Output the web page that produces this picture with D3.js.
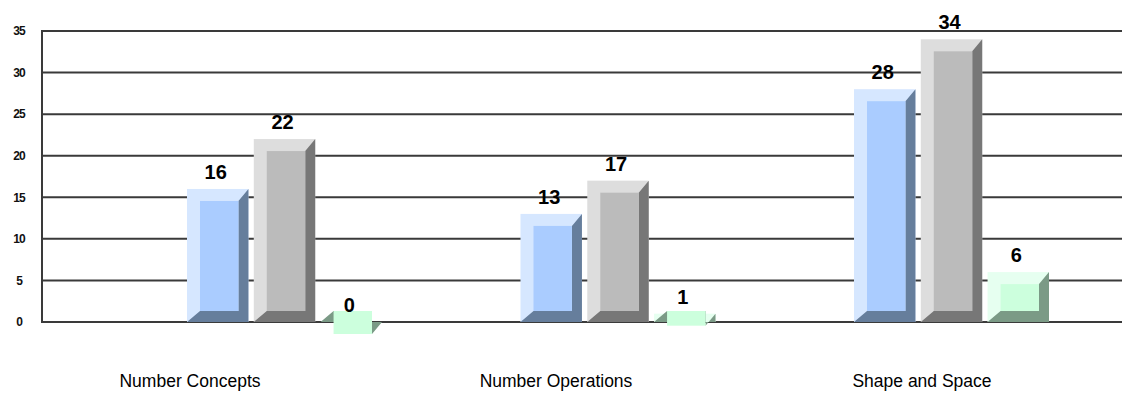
<!DOCTYPE html>
<html>
<head>
<meta charset="utf-8">
<script src="https://cdn.jsdelivr.net/npm/d3@7"></script>
<style>
  html, body { margin: 0; padding: 0; background: #fff; }
  svg { display: block; }
</style>
</head>
<body>
<svg id="chart" width="1122" height="405"></svg>
<script>
const categories = ["Number Concepts", "Number Operations", "Shape and Space"];
const seriesKeys = ["blue", "gray", "green"];
const blueValues = [16, 13, 28];
const grayValues = [22, 17, 34];
const greenValues = [0, 1, 6];
const yTicks = [0, 5, 10, 15, 20, 25, 30, 35];

const palette = {
  blue:  { light: "#d6e7ff", mid: "#aaccff", dark: "#667e9c" },
  gray:  { light: "#dddddd", mid: "#bbbbbb", dark: "#777777" },
  green: { light: "#e6fff0", mid: "#ccffdd", dark: "#7b9a86" }
};

const valuesByKey = { blue: blueValues, gray: grayValues, green: greenValues };
const data = categories.map((c, i) => ({
  category: c,
  values: seriesKeys.map(k => ({ key: k, value: valuesByKey[k][i] }))
}));

const svg = d3.select("#chart");
const W = 1122;
const axisX = 42;

const y = d3.scaleLinear().domain([0, 35]).range([322, 31]);
const x0 = d3.scaleBand().domain(categories).range([187, 1187.5]).paddingInner(0);
const x1 = d3.scaleBand().domain(seriesKeys).range([0, 195]).paddingInner(0.08);
const xLabel = d3.scaleBand().domain(categories).range([0, 1098]);

// gridlines
svg.append("g").selectAll("line").data(yTicks).join("line")
  .attr("x1", axisX).attr("x2", W)
  .attr("y1", d => y(d)).attr("y2", d => y(d))
  .attr("stroke", "#3a3a3a").attr("stroke-width", 2);

// y axis line
svg.append("line")
  .attr("x1", axisX).attr("x2", axisX)
  .attr("y1", y(35) - 1).attr("y2", y(0) + 1)
  .attr("stroke", "#3a3a3a").attr("stroke-width", 2);

// y tick labels
svg.append("g").selectAll("text").data(yTicks).join("text")
  .attr("x", 19).attr("y", d => y(d))
  .attr("dy", "0.36em")
  .attr("text-anchor", "middle")
  .attr("font-family", "Liberation Sans, Arial, sans-serif")
  .attr("font-weight", "bold")
  .attr("font-size", 12)
  .attr("letter-spacing", -1)
  .attr("fill", "#111")
  .text(d => d);

// bevel sizes
const L = 13, T = 12, R = 10, B = 11;

const groups = svg.append("g").selectAll("g").data(data).join("g")
  .attr("transform", d => `translate(${x0(d.category)},0)`);

const bars = groups.selectAll("g").data(d => d.values).join("g");

bars.each(function(d) {
  const g = d3.select(this);
  const c = palette[d.key];
  const xa = x1(d.key), xb = xa + x1.bandwidth();
  const yTop = y(d.value), yBase = y(0);
  g.append("rect")
    .attr("x", xa).attr("y", yTop)
    .attr("width", xb - xa).attr("height", yBase - yTop)
    .attr("fill", c.light);
  const pts = [
    [xb, yTop], [xb, yBase], [xa, yBase],
    [xa + L, yBase - B], [xb - R, yBase - B], [xb - R, yTop + T]
  ];
  g.append("polygon")
    .attr("points", pts.map(p => p.join(",")).join(" "))
    .attr("fill", c.dark);
  const iy1 = yTop + T, iy2 = yBase - B;
  g.append("rect")
    .attr("x", xa + L).attr("y", Math.min(iy1, iy2))
    .attr("width", (xb - R) - (xa + L)).attr("height", Math.abs(iy2 - iy1))
    .attr("fill", c.mid);
  g.append("text")
    .attr("x", (xa + xb) / 2 - 2)
    .attr("y", yTop - 10)
    .attr("text-anchor", "middle")
    .attr("font-family", "Liberation Sans, Arial, sans-serif")
    .attr("font-weight", "bold")
    .attr("font-size", 20)
    .attr("fill", "#000")
    .text(d.value);
});

// category labels
svg.append("g").selectAll("text").data(categories).join("text")
  .attr("x", d => xLabel(d) + xLabel.bandwidth() / 2 + 7)
  .attr("y", 387)
  .attr("text-anchor", "middle")
  .attr("font-family", "Liberation Sans, Arial, sans-serif")
  .attr("font-size", 17.5)
  .attr("fill", "#000")
  .text(d => d);
</script>
</body>
</html>
